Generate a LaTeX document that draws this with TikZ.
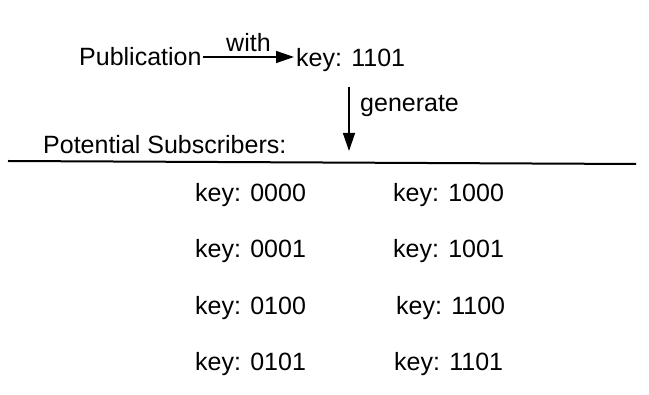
\documentclass[tikz,border=0pt]{standalone}
\usepackage{fontspec}
\setmainfont{Liberation Sans}
\usetikzlibrary{arrows.meta}
\begin{document}
\begin{tikzpicture}[x=1pt,y=-1pt,
  lbl/.style={anchor=base west,inner sep=0pt,font=\fontsize{25}{30}\selectfont},
  arr/.style={line width=1.4pt,-{Triangle[length=18pt,width=12pt]}}]
\useasboundingbox (0,0) rectangle (649,395);
\node[lbl] (pub) at (79,66) {Publication};
\node[lbl] (key) at (296,67) {key: 1101};
\node[lbl] (with) at (226,52) {with};
\node[lbl] (gen) at (360,112) {generate};
\node[lbl] (pot) at (43,154) {Potential Subscribers:};
\coordinate (a1) at (349,87);
\coordinate (a2) at (349,151);
\coordinate (l1) at (8,161);
\coordinate (l2) at (636,164);
\draw[arr] (pub.base east |- 0,57) ++(1,0) -- ([xshift=-2pt]key.base west |- 0,57);
\draw[arr] (a1) -- (a2);
\draw[line width=2pt] (l1) -- (l2);
\node[lbl] (k0000) at (195,202) {key: 0000};
\node[lbl] (k1000) at (393,202) {key: 1000};
\node[lbl] (k0001) at (195,258) {key: 0001};
\node[lbl] (k1001) at (393,258) {key: 1001};
\node[lbl] (k0100) at (195,314.5) {key: 0100};
\node[lbl] (k1100) at (396,314.5) {key: 1100};
\node[lbl] (k0101) at (195,371) {key: 0101};
\node[lbl] (k1101) at (394,371) {key: 1101};
\end{tikzpicture}
\end{document}
